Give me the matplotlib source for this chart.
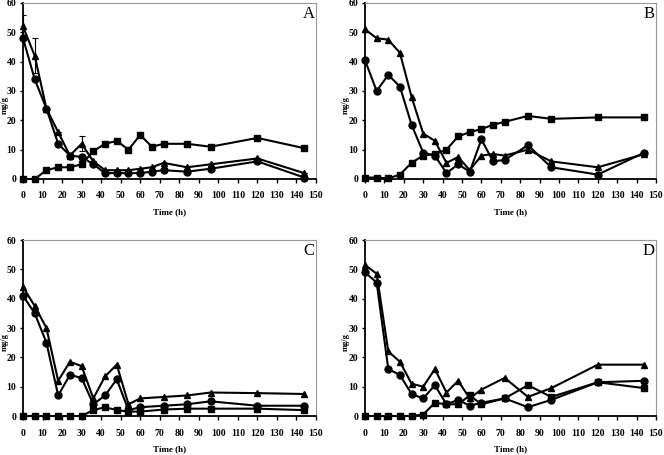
import matplotlib
matplotlib.use("Agg")
import matplotlib.pyplot as plt
import numpy as np

plt.rcParams['font.family'] = ['Liberation Serif', 'DejaVu Serif']

time_full = [0, 6, 12, 18, 24, 30, 36, 42, 48, 54, 60, 66, 72, 84, 96, 120, 144]
time_cd = [0, 6, 12, 18, 24, 30, 36, 42, 48, 54, 60, 72, 84, 96, 120, 144]

a_tri = [52, 42, 24, 16, 8, 12, 6, 3, 3, 3, 3.5, 4, 5.5, 4, 5, 7, 2]
a_cir = [48, 34, 24, 12, 8, 7.5, 5, 2, 2, 2, 2, 2.5, 3, 2.5, 3.5, 6, 0.5]
a_sq = [0, 0, 3, 4, 4, 5, 9.5, 12, 13, 10, 15, 11, 12, 12, 11, 14, 10.5]
a_tri_err = [4, 6, 0, 0, 0, 2.5, 0, 0, 0, 0, 0, 0, 0, 0, 0, 0, 0]

b_tri = [51, 48, 47.5, 43, 28, 15.5, 13, 5.5, 7.5, 3, 8, 8.5, 8, 10, 6, 4, 8.5]
b_cir = [40.5, 30, 35.5, 31.5, 18.5, 9, 8, 2, 5, 2.5, 13.5, 6, 6.5, 11.5, 4, 1.5, 9]
b_sq = [0.5, 0.5, 0.2, 1.5, 5.5, 8, 8.5, 10, 14.5, 16, 17, 18.5, 19.5, 21.5, 20.5, 21, 21]

c_tri = [44, 37.5, 30, 12, 18.5, 17, 6, 13.5, 17.5, 4, 6, 6.5, 7, 8, 7.8, 7.5]
c_cir = [41, 35, 25, 7, 14, 13, 4, 7, 12.5, 2, 3, 3.5, 4, 5, 3.5, 3.5]
c_sq = [0, 0, 0, 0, 0, 0, 2, 3, 2, 1.5, 1.5, 2.2, 2.5, 2.5, 2.5, 2]

d_tri = [51.5, 48.5, 22, 18.5, 11, 10, 16, 8, 12, 6, 9, 13, 6.5, 9.5, 17.5, 17.5]
d_cir = [49, 45.5, 16, 14, 7.5, 6, 10.5, 4, 5.5, 3.5, 4.5, 6, 3, 5.5, 11.5, 12]
d_sq = [0, 0, 0, 0, 0, 0.5, 4.5, 4, 4, 7, 4, 6, 10.5, 6.5, 11.5, 9.5]

panel_labels = ['A', 'B', 'C', 'D']
x_ticks = list(range(0, 151, 10))
y_ticks = list(range(0, 61, 10))

fig = plt.figure(figsize=(6.64, 4.55), dpi=100)

W, H = 664.0, 455.0
boxes = [
    (23, 3, 316, 179),
    (365, 3, 656, 179),
    (23, 240, 316, 416),
    (365, 240, 656, 416),
]
ylab_x = [5, 346, 5, 346]

panels = [
    (time_full, a_tri, a_cir, a_sq, a_tri_err),
    (time_full, b_tri, b_cir, b_sq, None),
    (time_cd, c_tri, c_cir, c_sq, None),
    (time_cd, d_tri, d_cir, d_sq, None),
]

tick_font = dict(family='Liberation Serif', weight='bold', size=7)

for (x0, y0, x1, y1), (t, tri, cir, sq, err), lab, yx in zip(boxes, panels, panel_labels, ylab_x):
    ax = fig.add_axes([x0 / W, 1 - y1 / H, (x1 - x0) / W, (y1 - y0) / H])
    lw = 1.5
    ax.plot(t, sq, color='black', lw=lw, marker='s', ms=5, zorder=3, clip_on=False)
    ax.plot(t, cir, color='black', lw=lw, marker='o', ms=5, zorder=3, clip_on=False)
    ax.plot(t, tri, color='black', lw=lw, marker='^', ms=5, zorder=3, clip_on=False)
    if err is not None:
        ax.errorbar(t, tri, yerr=err, fmt='none', ecolor='black', elinewidth=0.8,
                    capsize=2, capthick=0.8, zorder=2)
    ax.set_xlim(0, 150)
    ax.set_ylim(0, 60)
    ax.set_xticks(x_ticks)
    ax.set_yticks(y_ticks)
    ax.set_xticklabels([str(v) for v in x_ticks], fontdict=tick_font)
    ax.set_yticklabels([str(v) for v in y_ticks], fontdict=tick_font)
    ax.tick_params(axis='x', direction='out', length=3, width=1, pad=6)
    ax.tick_params(axis='y', direction='out', length=2, width=1, pad=3)
    ax.spines['left'].set_linewidth(1.3)
    ax.spines['bottom'].set_linewidth(1.3)
    ax.spines['top'].set_color('#999999')
    ax.spines['right'].set_color('#999999')
    ax.spines['top'].set_linewidth(0.8)
    ax.spines['right'].set_linewidth(0.8)
    ax.set_xlabel('Time (h)', fontdict=dict(family='Liberation Serif', weight='bold', size=6.5))
    ax.xaxis.label.set_va('center')
    ax.xaxis.set_label_coords(0.5, -(33.0 / (y1 - y0)))
    ax.set_ylabel('mg/g', fontdict=dict(family='Liberation Serif', weight='bold', size=6))
    ax.yaxis.label.set_va('center')
    ax.yaxis.set_label_coords((yx - x0) / (x1 - x0), 0.418)
    ax.text(0.995, 0.985, lab, transform=ax.transAxes, ha='right', va='top',
            fontsize=12, family='Liberation Serif')

fig.savefig('out.png', dpi=100)
